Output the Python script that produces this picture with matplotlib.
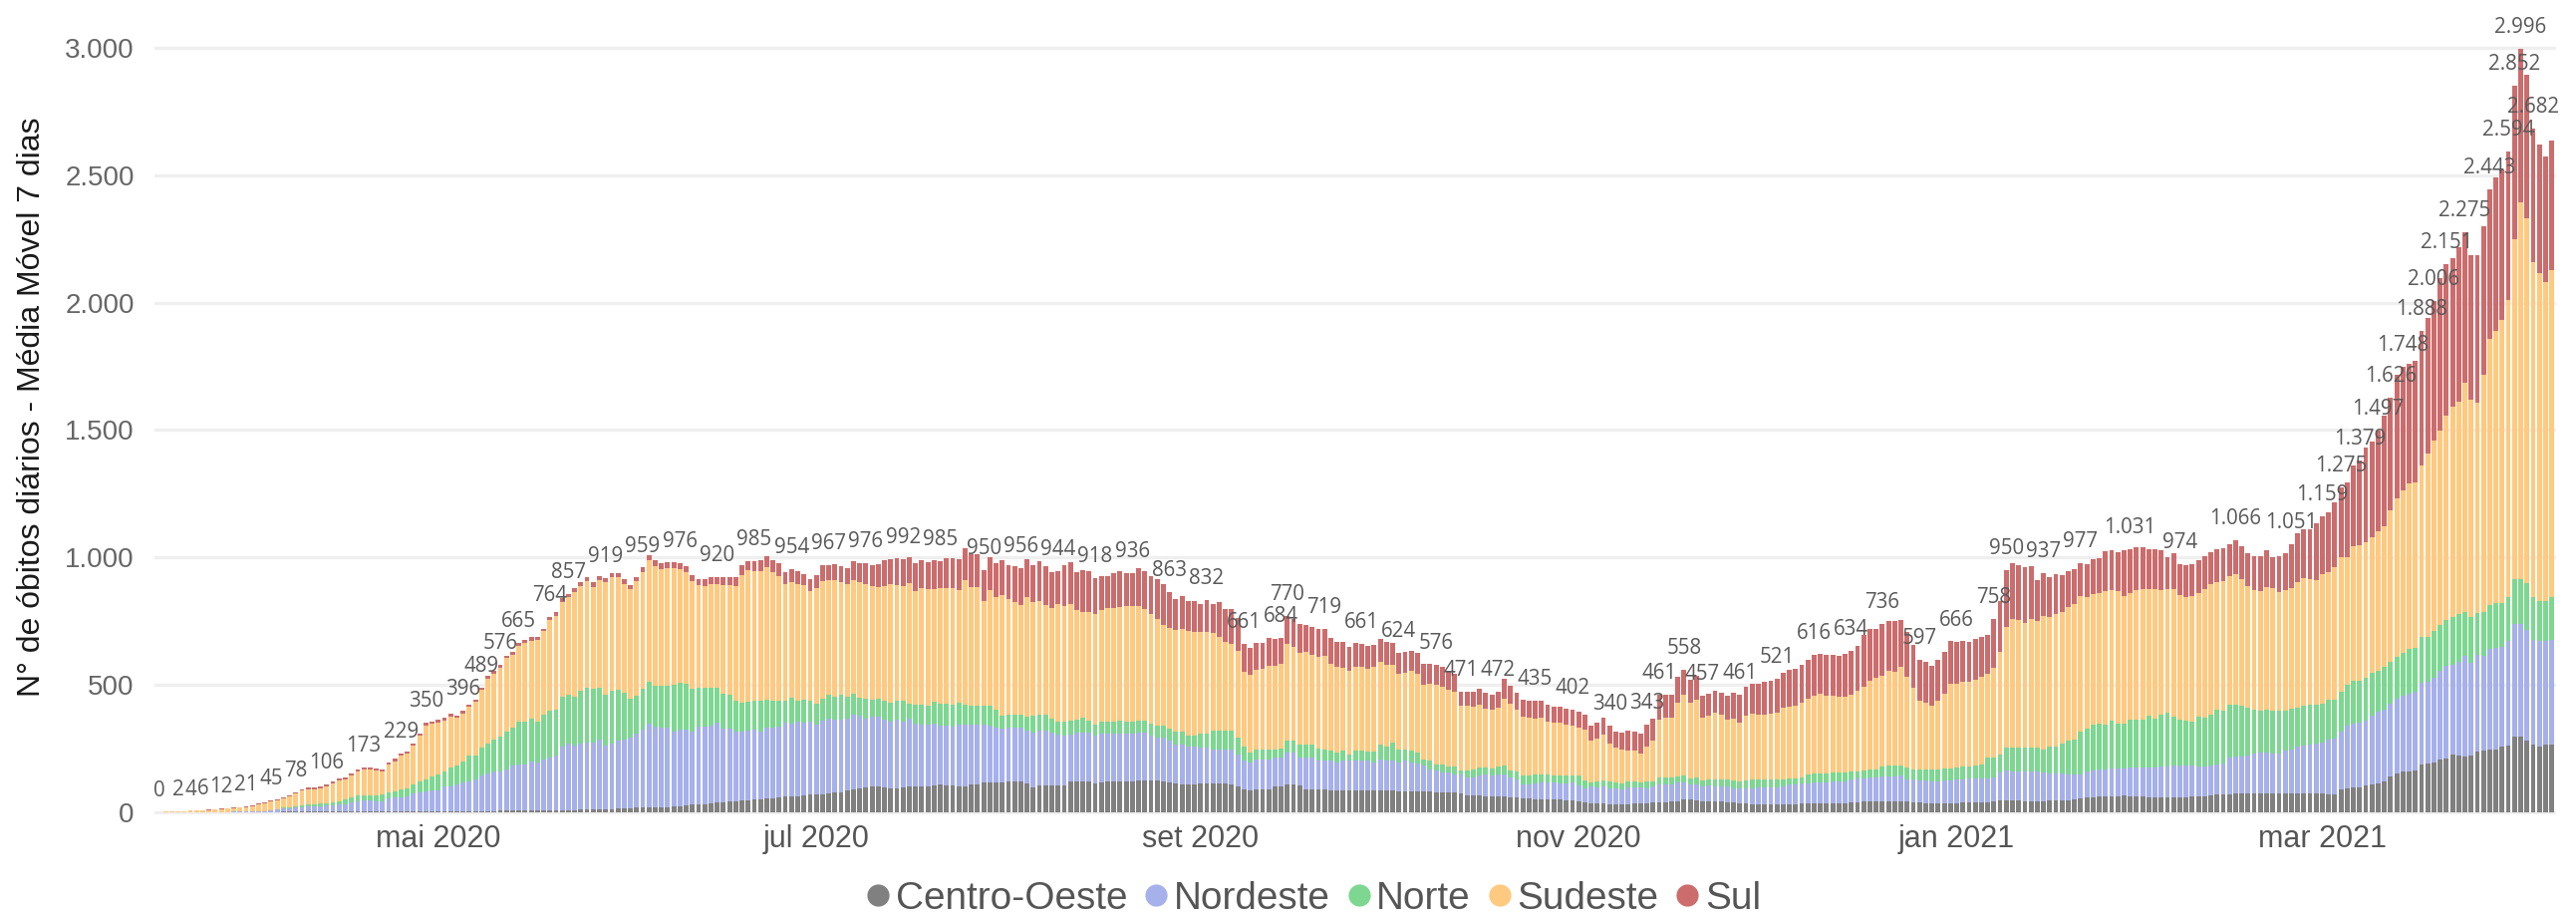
import numpy as np
import pandas as pd
import matplotlib
matplotlib.use('Agg')
import matplotlib.pyplot as plt
from matplotlib.lines import Line2D

dias = pd.date_range('2020-03-17', periods=387, freq='D')

centro_oeste = [
    0, 0, 0, 0, 0, 0, 0, 0, 0, 0,
    0, 0, 0, 0, 0, 0, 0, 0, 0, 0,
    1, 1, 1, 1, 1, 1, 1, 1, 1, 1,
    1, 1, 1, 1, 1, 2, 2, 2, 2, 2,
    2, 2, 2, 2, 2, 3, 3, 3, 3, 3,
    3, 3, 3, 3, 3, 4, 4, 4, 4, 4,
    4, 4, 4, 4, 5, 5, 6, 7, 8, 9,
    10, 10, 11, 11, 12, 13, 15, 16, 17, 17,
    18, 18, 19, 20, 23, 26, 28, 30, 31, 33,
    37, 38, 40, 40, 44, 46, 48, 50, 52, 54,
    57, 59, 60, 62, 65, 67, 69, 70, 72, 75,
    78, 85, 89, 93, 96, 98, 99, 95, 92, 91,
    97, 99, 99, 99, 100, 104, 106, 103, 102, 99,
    99, 108, 108, 117, 117, 117, 115, 118, 120, 121,
    110, 95, 104, 104, 104, 104, 104, 119, 119, 119,
    119, 111, 117, 119, 121, 121, 120, 119, 125, 123,
    125, 122, 121, 115, 110, 108, 107, 108, 110, 112,
    113, 112, 110, 108, 100, 88, 86, 88, 88, 90,
    98, 98, 106, 106, 104, 90, 88, 87, 87, 86,
    85, 85, 85, 85, 85, 85, 85, 86, 85, 84,
    82, 82, 82, 82, 80, 80, 78, 76, 76, 75,
    72, 65, 64, 63, 62, 60, 60, 60, 58, 56,
    54, 52, 50, 50, 48, 48, 47, 46, 45, 42,
    38, 33, 32, 32, 30, 30, 30, 31, 32, 32,
    34, 37, 38, 38, 40, 42, 50, 48, 46, 42,
    42, 40, 40, 38, 36, 34, 32, 30, 29, 28,
    28, 28, 29, 30, 31, 32, 33, 33, 33, 33,
    33, 34, 35, 37, 38, 40, 40, 41, 42, 43,
    42, 41, 40, 38, 36, 35, 34, 34, 34, 35,
    35, 36, 36, 37, 37, 38, 40, 46, 46, 46,
    45, 42, 42, 42, 43, 44, 45, 46, 46, 48,
    52, 56, 58, 60, 60, 61, 62, 63, 60, 60,
    59, 58, 58, 58, 57, 57, 58, 58, 60, 61,
    62, 65, 67, 68, 70, 71, 71, 72, 72, 72,
    73, 72, 72, 72, 72, 73, 72, 72, 73, 73,
    70, 70, 90, 92, 94, 94, 105, 108, 112, 120,
    140, 152, 158, 160, 162, 185, 188, 192, 205, 210,
    226, 222, 216, 222, 235, 241, 245, 245, 258, 262,
    297, 297, 279, 266, 258, 266, 266,
]

nordeste = [
    0, 0, 0, 0, 0, 0, 0, 0, 0, 0,
    0, 0, 1, 1, 1, 1, 2, 3, 6, 9,
    12, 13, 16, 17, 19, 19, 22, 26, 26, 29,
    29, 37, 42, 43, 45, 41, 41, 52, 54, 55,
    58, 71, 74, 80, 81, 81, 96, 96, 103, 112,
    118, 125, 141, 147, 155, 156, 163, 179, 180, 183,
    193, 188, 201, 211, 217, 251, 263, 254, 261, 262,
    263, 274, 250, 258, 267, 271, 276, 291, 307, 330,
    316, 312, 311, 295, 301, 298, 289, 304, 303, 305,
    313, 290, 288, 277, 273, 274, 276, 267, 278, 277,
    276, 293, 288, 294, 286, 289, 272, 289, 293, 286,
    285, 280, 291, 283, 271, 274, 273, 268, 264, 272,
    259, 266, 249, 242, 241, 244, 233, 234, 232, 244,
    244, 235, 235, 226, 223, 213, 211, 212, 210, 209,
    210, 216, 216, 216, 207, 201, 197, 186, 192, 192,
    192, 187, 190, 188, 186, 186, 187, 188, 186, 188,
    173, 169, 170, 163, 155, 157, 149, 148, 142, 140,
    132, 133, 135, 137, 126, 112, 107, 118, 118, 116,
    115, 115, 126, 126, 109, 123, 125, 113, 113, 114,
    108, 115, 115, 115, 117, 115, 108, 120, 117, 118,
    111, 118, 111, 107, 103, 87, 83, 78, 78, 72,
    73, 72, 73, 78, 85, 81, 85, 85, 76, 72,
    54, 56, 61, 65, 67, 67, 65, 66, 70, 62,
    53, 65, 63, 66, 63, 63, 59, 64, 63, 63,
    57, 61, 70, 70, 68, 73, 65, 58, 60, 56,
    60, 59, 59, 61, 55, 57, 61, 63, 66, 67,
    68, 69, 69, 76, 77, 78, 79, 81, 82, 83,
    85, 85, 86, 91, 92, 92, 94, 95, 96, 96,
    98, 100, 88, 88, 88, 87, 87, 87, 88, 89,
    93, 93, 94, 94, 95, 95, 94, 108, 117, 114,
    115, 116, 116, 116, 111, 108, 105, 104, 102, 99,
    95, 104, 105, 105, 107, 108, 108, 109, 114, 114,
    116, 118, 118, 119, 123, 125, 124, 124, 122, 119,
    118, 117, 118, 122, 144, 147, 147, 148, 158, 160,
    161, 158, 158, 169, 173, 183, 188, 194, 195, 199,
    213, 217, 224, 247, 252, 258, 255, 269, 280, 282,
    283, 292, 297, 305, 309, 322, 323, 336, 350, 364,
    352, 369, 396, 365, 383, 371, 394, 400, 391, 408,
    440, 440, 437, 411, 412, 404, 411,
]

norte = [
    0, 0, 0, 0, 0, 0, 0, 0, 0, 0,
    0, 0, 0, 0, 0, 0, 0, 0, 1, 1,
    3, 4, 6, 7, 9, 10, 10, 7, 10, 13,
    17, 18, 21, 20, 18, 21, 26, 22, 24, 30,
    31, 33, 43, 45, 55, 62, 61, 74, 75, 84,
    99, 92, 107, 117, 124, 135, 150, 147, 172, 169,
    168, 161, 175, 183, 180, 196, 189, 193, 206, 218,
    211, 203, 200, 207, 200, 184, 153, 150, 159, 163,
    162, 165, 166, 184, 182, 180, 167, 155, 153, 151,
    137, 135, 133, 118, 111, 112, 111, 118, 110, 105,
    103, 83, 100, 81, 90, 81, 83, 85, 93, 92,
    98, 87, 83, 74, 77, 69, 73, 74, 72, 73,
    80, 59, 74, 78, 74, 84, 85, 87, 88, 85,
    77, 75, 75, 75, 78, 70, 50, 50, 50, 50,
    53, 65, 60, 60, 56, 51, 55, 53, 52, 58,
    49, 45, 49, 47, 49, 51, 49, 49, 49, 49,
    49, 48, 48, 48, 50, 50, 45, 45, 55, 55,
    75, 75, 75, 75, 64, 58, 39, 39, 39, 39,
    32, 37, 46, 46, 52, 52, 52, 48, 45, 39,
    39, 39, 25, 39, 37, 36, 43, 59, 54, 69,
    52, 45, 46, 43, 23, 33, 26, 33, 26, 30,
    16, 24, 30, 35, 29, 30, 35, 38, 30, 30,
    36, 33, 34, 30, 30, 29, 32, 32, 29, 40,
    34, 17, 24, 27, 28, 22, 23, 26, 26, 20,
    28, 23, 29, 29, 26, 23, 26, 25, 28, 26,
    26, 29, 29, 29, 33, 30, 31, 33, 31, 31,
    32, 31, 30, 24, 24, 26, 35, 36, 37, 36,
    36, 35, 33, 29, 30, 31, 31, 31, 42, 44,
    43, 42, 48, 41, 43, 45, 46, 46, 48, 48,
    46, 49, 50, 51, 52, 80, 79, 72, 89, 92,
    92, 94, 94, 94, 89, 106, 108, 118, 130, 137,
    170, 166, 180, 181, 176, 191, 177, 175, 188, 188,
    187, 201, 191, 206, 208, 191, 180, 178, 174, 193,
    190, 199, 217, 208, 205, 201, 197, 188, 172, 166,
    168, 168, 168, 157, 159, 152, 155, 153, 151, 151,
    157, 153, 157, 160, 167, 161, 168, 168, 163, 168,
    168, 163, 169, 174, 174, 180, 176, 184, 178, 180,
    187, 184, 174, 178, 161, 174, 174, 176, 172, 172,
    178, 178, 181, 167, 157, 157, 165,
]

sudeste = [
    0, 1, 1, 2, 3, 4, 5, 6, 7, 9,
    11, 13, 13, 15, 18, 22, 28, 32, 34, 36,
    36, 42, 49, 59, 59, 59, 60, 65, 74, 79,
    81, 86, 96, 101, 103, 100, 88, 108, 119, 133,
    137, 153, 180, 213, 207, 205, 199, 201, 187, 187,
    191, 211, 227, 255, 262, 270, 286, 288, 297, 309,
    308, 321, 330, 354, 367, 370, 384, 409, 411, 417,
    400, 423, 442, 445, 442, 427, 430, 448, 459, 478,
    470, 459, 461, 458, 446, 436, 422, 400, 399, 405,
    407, 428, 429, 453, 503, 516, 511, 512, 521, 506,
    490, 459, 456, 459, 448, 430, 453, 464, 452, 457,
    443, 442, 447, 452, 450, 445, 437, 449, 467, 454,
    451, 474, 445, 459, 459, 442, 455, 454, 458, 444,
    490, 465, 465, 408, 452, 444, 474, 455, 444, 434,
    469, 449, 449, 432, 434, 460, 452, 457, 430, 415,
    425, 435, 437, 446, 446, 447, 453, 452, 449, 435,
    428, 419, 395, 397, 400, 404, 408, 404, 401, 400,
    381, 368, 348, 341, 341, 293, 306, 313, 318, 330,
    329, 332, 380, 371, 360, 363, 353, 362, 366, 344,
    339, 328, 330, 329, 330, 324, 332, 324, 323, 305,
    297, 301, 313, 310, 294, 302, 311, 305, 301, 293,
    255, 255, 244, 245, 231, 230, 230, 261, 259, 243,
    228, 227, 222, 225, 211, 206, 206, 198, 196, 187,
    196, 166, 170, 179, 149, 137, 134, 120, 121, 114,
    138, 159, 227, 232, 235, 290, 318, 297, 307, 247,
    250, 261, 254, 234, 241, 229, 254, 259, 256, 256,
    257, 261, 280, 282, 286, 292, 297, 307, 313, 305,
    303, 300, 298, 304, 314, 330, 350, 359, 356, 369,
    366, 385, 353, 320, 268, 261, 248, 268, 293, 330,
    328, 331, 329, 335, 348, 329, 352, 402, 476, 505,
    501, 489, 505, 496, 528, 509, 518, 515, 528, 534,
    529, 516, 512, 513, 522, 510, 518, 499, 497, 507,
    511, 496, 508, 486, 485, 500, 491, 484, 492, 486,
    503, 513, 499, 507, 506, 513, 500, 478, 467, 467,
    482, 482, 465, 471, 476, 493, 502, 496, 492, 509,
    503, 519, 528, 502, 530, 534, 530, 534, 545, 551,
    592, 623, 637, 651, 647, 675, 721, 744, 765, 802,
    827, 834, 900, 852, 828, 932, 1045, 1068, 1110, 1169,
    1333, 1477, 1432, 1314, 1287, 1255, 1284,
]

sul = [
    0, 0, 0, 0, 0, 0, 0, 0, 1, 1,
    1, 1, 2, 2, 2, 3, 3, 3, 4, 4,
    5, 5, 6, 6, 7, 7, 7, 7, 7, 8,
    8, 8, 8, 8, 8, 8, 8, 8, 9, 9,
    9, 9, 9, 10, 10, 10, 10, 10, 10, 10,
    10, 10, 11, 11, 11, 11, 11, 12, 12, 12,
    12, 12, 10, 12, 14, 17, 15, 15, 16, 15,
    18, 17, 16, 16, 16, 18, 17, 16, 17, 19,
    22, 23, 24, 24, 24, 23, 24, 24, 27, 27,
    26, 30, 31, 33, 37, 37, 39, 41, 43, 46,
    50, 47, 50, 51, 44, 45, 52, 60, 57, 62,
    60, 63, 74, 74, 82, 82, 90, 102, 97, 106,
    105, 102, 109, 110, 106, 114, 106, 118, 116, 120,
    125, 128, 128, 124, 130, 132, 138, 133, 140, 142,
    150, 143, 155, 152, 140, 128, 160, 165, 148, 165,
    160, 140, 132, 125, 135, 140, 128, 128, 148, 150,
    150, 155, 160, 140, 120, 128, 118, 122, 108, 125,
    115, 135, 128, 135, 130, 110, 105, 105, 100, 108,
    105, 102, 112, 108, 112, 105, 108, 108, 108, 100,
    96, 100, 92, 95, 92, 90, 88, 90, 88, 86,
    82, 82, 80, 82, 82, 80, 78, 76, 74, 72,
    55, 55, 60, 62, 60, 58, 62, 78, 72, 66,
    68, 68, 68, 66, 64, 62, 62, 62, 62, 62,
    60, 57, 61, 65, 70, 63, 65, 77, 73, 78,
    86, 85, 97, 90, 90, 102, 99, 90, 93, 86,
    85, 86, 85, 93, 102, 111, 113, 117, 120, 128,
    129, 132, 137, 145, 143, 149, 153, 159, 155, 159,
    159, 158, 168, 173, 177, 201, 203, 192, 200, 197,
    200, 185, 177, 168, 162, 161, 158, 162, 165, 169,
    164, 162, 158, 162, 154, 152, 193, 198, 222, 219,
    215, 219, 207, 162, 166, 154, 157, 146, 139, 135,
    131, 130, 137, 137, 158, 157, 154, 181, 172, 172,
    168, 160, 158, 157, 128, 143, 121, 124, 126, 130,
    132, 126, 130, 132, 125, 134, 130, 129, 136, 140,
    142, 121, 142, 147, 171, 192, 193, 195, 224, 227,
    234, 256, 276, 294, 319, 332, 371, 375, 397, 433,
    443, 488, 487, 470, 478, 526, 532, 550, 597, 595,
    582, 607, 589, 568, 578, 582, 585, 604, 591, 583,
    604, 604, 566, 524, 506, 492, 511,
]

# dias com rótulo (índice do dia) e o total mostrado
rotulo_dia = [0, 3, 5, 7, 10, 14, 18, 22, 27, 33, 39, 43, 49, 52, 55, 58, 63, 66,
              72, 78, 84, 90, 96, 102, 108, 114, 120, 126, 133, 139, 145, 151, 157,
              163, 169, 175, 181, 182, 188, 194, 200, 206, 210, 216, 222, 228, 234,
              240, 242, 246, 249, 255, 261, 267, 273, 278, 284, 290, 296, 298, 304,
              310, 318, 326, 335, 344, 349, 352, 355, 358, 360, 362, 365, 367, 369,
              372, 376, 379, 380, 381, 383]
rotulo_val = [0, 2, 4, 6, 12, 21, 45, 78, 106, 173, 229, 350, 396, 489, 576, 665, 764, 857,
              919, 959, 976, 920, 985, 954, 967, 976, 992, 985, 950, 956, 944, 918, 936,
              863, 832, 661, 684, 770, 719, 661, 624, 576, 471, 472, 435, 402, 340,
              343, 461, 558, 457, 461, 521, 616, 634, 736, 597, 666, 758, 950, 937,
              977, 1031, 974, 1066, 1051, 1159, 1275, 1379, 1497, 1626, 1748, 1888, 2006, 2151,
              2275, 2443, 2594, 2852, 2996, 2682]

regioes = ['Centro-Oeste', 'Nordeste', 'Norte', 'Sudeste', 'Sul']
series = [centro_oeste, nordeste, norte, sudeste, sul]
cores = ['#808080', '#a6b0ea', '#7dd791', '#ffc980', '#cc6c6c']

meses = ['2020-05-01', '2020-07-01', '2020-09-01', '2020-11-01', '2021-01-01', '2021-03-01']
meses_txt = ['mai 2020', 'jul 2020', 'set 2020', 'nov 2020', 'jan 2021', 'mar 2021']


def fmt(v):
    return f'{v:,}'.replace(',', '.')


fig = plt.figure(figsize=(25.85, 9.19), dpi=100)
ax = fig.add_axes([0.05996, 0.11045, 0.9323, 0.86779])

base = np.zeros(len(dias))
for nome, vals, cor in zip(regioes, series, cores):
    vals = np.array(vals, dtype=float)
    ax.bar(dias, vals, bottom=base, width=0.78, color=cor, linewidth=0, zorder=2)
    base = base + vals

for d, v in zip(rotulo_dia, rotulo_val):
    ax.annotate(fmt(v), (dias[d], v), xytext=(0, 11.5), textcoords='offset points',
                ha='center', va='baseline', fontsize=14.8, color='#595959',
                family='Open Sans', zorder=3, annotation_clip=False)

ax.set_xlim(dias[0] - pd.Timedelta(hours=19), dias[-1] + pd.Timedelta(hours=17))
ax.set_ylim(-11.7, 3109.6)

yt = [0, 500, 1000, 1500, 2000, 2500, 3000]
ax.set_yticks(yt)
ax.set_yticklabels([fmt(v) for v in yt], fontsize=20, color='#666666', family='Liberation Sans')
ax.set_xticks(pd.to_datetime(meses))
ax.set_xticklabels(meses_txt, fontsize=22, color='#555555', family='Liberation Sans')
ax.tick_params(axis='both', length=0)
ax.tick_params(axis='y', pad=14.5)
ax.tick_params(axis='x', pad=7)

ax.grid(axis='y', color='#efefef', linewidth=2.4)
ax.grid(axis='x', visible=False)
ax.set_axisbelow(True)
for s in ax.spines.values():
    s.set_visible(False)

fig.text(0.0124, 0.556, 'N° de óbitos diários - Média Móvel 7 dias', rotation=90,
         ha='center', va='center', fontsize=23, color='#1a1a1a', family='Liberation Sans')

handles = [Line2D([0], [0], marker='o', linestyle='', markersize=15,
                  markerfacecolor=c, markeredgecolor=c) for c in cores]
leg = fig.legend(handles, regioes, loc='center', bbox_to_anchor=(0.51, 0.0185), ncol=5,
                 frameon=False, handlelength=0.6, handletextpad=0.15, columnspacing=0.45,
                 borderpad=0, prop={'family': 'Liberation Sans', 'size': 27.9})
for t in leg.get_texts():
    t.set_color('#555555')

fig.savefig('out.png', dpi=100)
